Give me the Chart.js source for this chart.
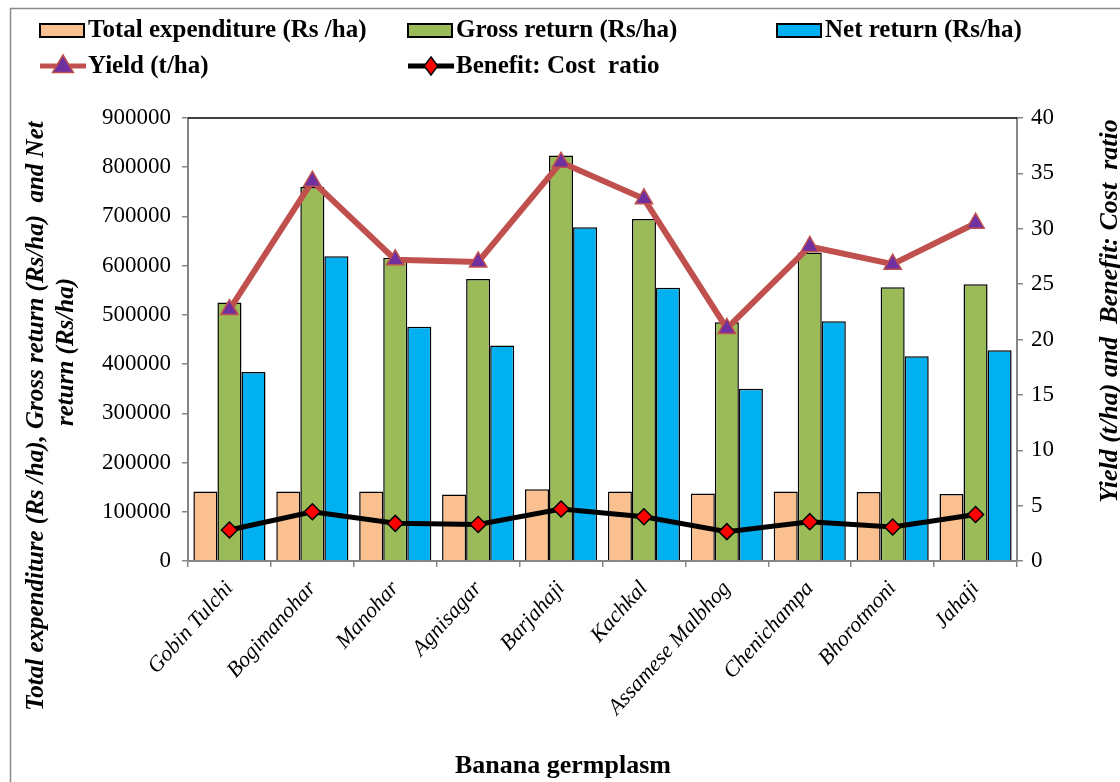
<!DOCTYPE html>
<html>
<head>
<meta charset="utf-8">
<script src="https://cdn.jsdelivr.net/npm/chart.js@4"></script>
<style>
  html, body { margin: 0; padding: 0; background: #fff; }
  #wrap { position: relative; width: 1120px; height: 782px; }
</style>
</head>
<body>
<div id="wrap"><canvas id="chart" width="1120" height="782"></canvas></div>
<script>
const germplasm = ['Gobin Tulchi', 'Bogimanohar', 'Manohar', 'Agnisagar', 'Barjahaji', 'Kachkal', 'Assamese Malbhog', 'Chenichampa', 'Bhorotmoni', 'Jahaji'];
const totalExpenditure = [141000, 141000, 141000, 135000, 146000, 141000, 137000, 141000, 140000, 136000];
const grossReturn = [525000, 760000, 616000, 573000, 824000, 695000, 485000, 627000, 556000, 562000];
const netReturn = [384000, 619000, 476000, 438000, 678000, 555000, 350000, 487000, 416000, 428000];
const yieldTHa = [22.7, 34.3, 27.2, 27.0, 36.0, 32.7, 21.0, 28.4, 26.8, 30.5];
const benefitCost = [2.8, 4.45, 3.4, 3.3, 4.7, 4.0, 2.65, 3.55, 3.07, 4.2];
const leftTicks = [0, 100000, 200000, 300000, 400000, 500000, 600000, 700000, 800000, 900000];
const rightTicks = [0, 5, 10, 15, 20, 25, 30, 35, 40];

const SERIF = '"Liberation Serif", "Times New Roman", serif';
const AXIS_GRAY = '#868686';

// legend slots (x of swatch, y of row centre), one per dataset
const legendSlots = [[40, 30], [408, 30], [777, 30], [40, 66], [408, 66]];

const drawMarker = (ctx, style, x, y, r, fill, stroke, lw) => {
  ctx.save();
  ctx.fillStyle = fill;
  ctx.strokeStyle = stroke;
  ctx.lineWidth = lw;
  ctx.beginPath();
  if (style === 'triangle') {
    ctx.moveTo(x, y - r);
    ctx.lineTo(x + r * 0.95, y + r * 0.6);
    ctx.lineTo(x - r * 0.95, y + r * 0.6);
  } else {
    ctx.moveTo(x, y - r);
    ctx.lineTo(x + r * 0.75, y);
    ctx.lineTo(x, y + r);
    ctx.lineTo(x - r * 0.75, y);
  }
  ctx.closePath();
  ctx.fill();
  ctx.stroke();
  ctx.restore();
};

const vText = (ctx, text, x, y) => {
  ctx.save();
  ctx.translate(x, y);
  ctx.rotate(-Math.PI / 2);
  ctx.fillText(text, 0, 0);
  ctx.restore();
};

const decorations = {
  id: 'decorations',
  afterDraw: (chart) => {
    const { ctx, chartArea } = chart;
    ctx.save();

    // outer frame
    ctx.strokeStyle = '#8c8c8c';
    ctx.lineWidth = 1.5;
    ctx.strokeRect(10.5, 8.5, 1200, 900);

    // plot top border
    ctx.strokeStyle = '#000';
    ctx.lineWidth = 1.5;
    ctx.beginPath();
    ctx.moveTo(chartArea.left, chartArea.top);
    ctx.lineTo(chartArea.right, chartArea.top);
    ctx.stroke();

    // legend
    ctx.font = `bold 25px ${SERIF}`;
    ctx.textBaseline = 'middle';
    chart.data.datasets.forEach((ds, i) => {
      const [x, y] = legendSlots[i];
      if (ds.type === 'line') {
        ctx.strokeStyle = ds.borderColor;
        ctx.lineWidth = 5;
        ctx.beginPath();
        ctx.moveTo(x, y);
        ctx.lineTo(x + 46, y);
        ctx.stroke();
        drawMarker(ctx, ds.pointStyle, x + 23, y, ds.pointStyle === 'triangle' ? 11 : 9,
          ds.pointBackgroundColor, ds.pointBorderColor, 1.5);
      } else {
        ctx.fillStyle = ds.backgroundColor;
        ctx.fillRect(x, y - 6, 44, 13);
        ctx.strokeStyle = '#000';
        ctx.lineWidth = 2;
        ctx.strokeRect(x, y - 6, 44, 13);
      }
      ctx.fillStyle = '#000';
      ctx.textAlign = 'left';
      ctx.fillText(ds.label, x + 48, y + 1);
    });

    // axis titles
    ctx.fillStyle = '#000';
    ctx.textAlign = 'center';
    ctx.font = `italic bold 25px ${SERIF}`;
    vText(ctx, 'Total expenditure (Rs /ha), Gross return (Rs/ha)  and Net', 37, 416);
    vText(ctx, 'return (Rs/ha)', 67, 352);
    ctx.font = `italic bold 26px ${SERIF}`;
    vText(ctx, 'Yield (t/ha) and  Benefit: Cost  ratio', 1110, 311);

    ctx.font = `bold 26px ${SERIF}`;
    ctx.fillText('Banana germplasm', 563, 766);
    ctx.restore();
  }
};

const barDs = (label, data, color) => ({
  type: 'bar',
  label,
  data,
  yAxisID: 'y',
  backgroundColor: color,
  borderColor: '#000',
  borderWidth: 1.5,
  borderSkipped: 'bottom',
  categoryPercentage: 0.87,
  barPercentage: 1.0,
  order: 1
});

new Chart(document.getElementById('chart'), {
  data: {
    labels: germplasm,
    datasets: [
      barDs('Total expenditure (Rs /ha)', totalExpenditure, '#FAC090'),
      barDs('Gross return (Rs/ha)', grossReturn, '#9BBB59'),
      barDs('Net return (Rs/ha)', netReturn, '#00B0F0'),
      {
        type: 'line',
        label: 'Yield (t/ha)',
        data: yieldTHa,
        yAxisID: 'y1',
        borderColor: '#C0504D',
        borderWidth: 6,
        pointStyle: 'triangle',
        pointRadius: 10,
        pointBackgroundColor: '#7030A0',
        pointBorderColor: '#C0504D',
        pointBorderWidth: 1.5,
        tension: 0,
        order: 0
      },
      {
        type: 'line',
        label: 'Benefit: Cost  ratio',
        data: benefitCost,
        yAxisID: 'y1',
        borderColor: '#000',
        borderWidth: 5,
        pointStyle: 'rectRot',
        pointRadius: 8,
        pointBackgroundColor: '#FF0000',
        pointBorderColor: '#000',
        pointBorderWidth: 1.5,
        tension: 0,
        order: 0
      }
    ]
  },
  options: {
    responsive: false,
    animation: false,
    layout: { padding: { top: 118, left: 0, right: 0, bottom: 0 } },
    plugins: { legend: { display: false }, tooltip: { enabled: false } },
    scales: {
      x: {
        offset: true,
        afterFit: (s) => { s.height = 221; },
        grid: { offset: true, drawOnChartArea: false, color: AXIS_GRAY, tickLength: 6, lineWidth: 1.5 },
        border: { color: AXIS_GRAY, width: 2 },
        ticks: {
          color: '#000',
          font: { family: SERIF, size: 22, style: 'italic' },
          minRotation: 48,
          maxRotation: 48,
          autoSkip: false,
          padding: 9
        }
      },
      y: {
        position: 'left',
        min: 0,
        max: 900000,
        afterFit: (s) => { s.width = 188; },
        afterBuildTicks: (s) => { s.ticks = leftTicks.map((v) => ({ value: v })); },
        grid: { drawOnChartArea: false, color: AXIS_GRAY, tickLength: 6, lineWidth: 1.5 },
        border: { color: AXIS_GRAY, width: 2 },
        ticks: { color: '#000', font: { family: SERIF, size: 23 }, padding: 11, callback: (v) => String(v) }
      },
      y1: {
        position: 'right',
        min: 0,
        max: 40,
        afterFit: (s) => { s.width = 1120 - 1017; },
        afterBuildTicks: (s) => { s.ticks = rightTicks.map((v) => ({ value: v })); },
        grid: { drawOnChartArea: false, color: AXIS_GRAY, tickLength: 6, lineWidth: 1.5 },
        border: { color: AXIS_GRAY, width: 2 },
        ticks: { color: '#000', font: { family: SERIF, size: 23 }, padding: 8, callback: (v) => String(v) }
      }
    }
  },
  plugins: [decorations]
});
</script>
</body>
</html>
